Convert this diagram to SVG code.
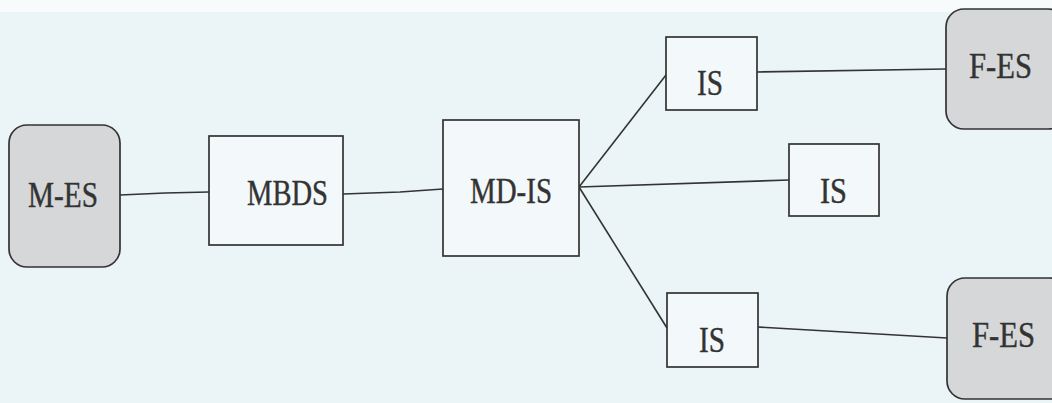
<svg xmlns="http://www.w3.org/2000/svg" width="1052" height="403" viewBox="0 0 1052 403">
<style>
.box{fill:#f3f8fa;stroke:#333;stroke-width:1.7}
.es{fill:#d6d7d8;stroke:#333;stroke-width:1.7}
.lbl{font-family:"Liberation Serif","Times New Roman",serif;font-size:35px;fill:#333;stroke:#333;stroke-width:0.4}
.con{stroke:#333;stroke-width:1.6;fill:none}
</style>
<rect x="0" y="0" width="1052" height="403" fill="#ebf4f7"/>
<rect x="0" y="0" width="1052" height="12" fill="#f8fbfc"/>
<g id="connectors">
<polyline class="con" points="120,195 165,193 209,192"/>
<polyline class="con" points="343,194 400,192 443,189"/>
<line class="con" x1="579" y1="187" x2="666" y2="75"/>
<line class="con" x1="579" y1="187" x2="789" y2="180"/>
<line class="con" x1="579" y1="187" x2="667" y2="328"/>
<line class="con" x1="757" y1="72" x2="946" y2="69"/>
<line class="con" x1="758" y1="327" x2="947" y2="338"/>
</g>
<g id="m-es">
<rect class="es" x="9" y="125" width="111" height="142" rx="18"/>
<text class="lbl" x="28" y="207" textLength="70" lengthAdjust="spacingAndGlyphs">M-ES</text>
</g>
<g id="mbds">
<rect class="box" x="209" y="136" width="134" height="109"/>
<text class="lbl" x="247" y="205" textLength="81" lengthAdjust="spacingAndGlyphs">MBDS</text>
</g>
<g id="md-is">
<rect class="box" x="443" y="120" width="136" height="136"/>
<text class="lbl" x="470" y="203" textLength="82" lengthAdjust="spacingAndGlyphs">MD-IS</text>
</g>
<g id="is-top">
<rect class="box" x="666" y="37" width="91" height="73"/>
<text class="lbl" x="697" y="95" textLength="26" lengthAdjust="spacingAndGlyphs">IS</text>
</g>
<g id="is-mid">
<rect class="box" x="789" y="144" width="90" height="72"/>
<text class="lbl" x="820" y="203" textLength="27" lengthAdjust="spacingAndGlyphs">IS</text>
</g>
<g id="is-bottom">
<rect class="box" x="667" y="293" width="91" height="74"/>
<text class="lbl" x="699" y="352" textLength="26" lengthAdjust="spacingAndGlyphs">IS</text>
</g>
<g id="f-es-top">
<rect class="es" x="946" y="9" width="120" height="120" rx="18"/>
<text class="lbl" x="969" y="78" textLength="63" lengthAdjust="spacingAndGlyphs">F-ES</text>
</g>
<g id="f-es-bottom">
<rect class="es" x="947" y="278" width="120" height="121" rx="18"/>
<text class="lbl" x="972" y="347" textLength="63" lengthAdjust="spacingAndGlyphs">F-ES</text>
</g>
</svg>
